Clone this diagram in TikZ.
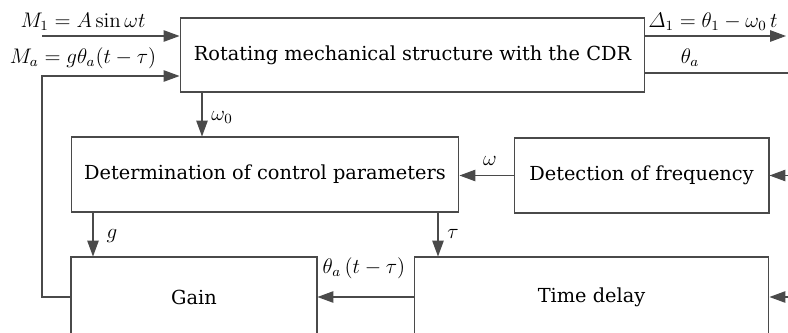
\documentclass[tikz,border=0pt]{standalone}
\usepackage{amsmath}
\usepackage{fontspec}
\usepackage{tikz}
\usetikzlibrary{arrows.meta}
\newfontfamily\blockfont{DejaVu Serif}
\definecolor{Frame}{HTML}{4A4A4A}

\begin{document}
\begin{tikzpicture}[x=0.02cm,y=-0.02cm,font=\fontsize{12}{14}\selectfont,
  blk/.style={draw=Frame,line width=0.6pt,inner sep=0pt,font=\blockfont\fontsize{11}{13}\selectfont},
  arr/.style={-{Triangle[length=9pt,width=6.5pt]},line width=0.6pt,draw=Frame}]
\useasboundingbox (0,0) rectangle (788,332);
\clip (0,0) rectangle (788,332);
% blocks
\node[blk,minimum width=9.3cm,minimum height=1.48cm] (rot) at (412.5,55) {Rotating mechanical structure with the CDR};
\node[blk,minimum width=7.76cm,minimum height=1.5cm] (par) at (265,174.5) {Determination of control parameters};
\node[blk,minimum width=5.1cm,minimum height=1.5cm] (freq) at (641.5,175.5) {Detection of frequency};
\node[blk,minimum width=4.92cm,minimum height=1.6cm] (gain) at (194,297) {Gain};
\node[blk,minimum width=7.1cm,minimum height=1.6cm] (delay) at (591.5,297) {Time delay};
% free ends
\coordinate (m1) at (42,36);
\coordinate (ma) at (42,76);
\coordinate (d1) at (786,36);
\coordinate (tha) at (800,73);
\coordinate (w0) at (202,0);
\coordinate (g) at (93,0);
\coordinate (tau) at (438,0);
\coordinate (fin) at (800,0);
% connectors
\draw[arr] (m1) -- (m1 -| rot.west);
\draw[arr] (gain.west) -| (ma) -- (ma -| rot.west);
\draw[arr] (rot.east |- d1) -- (d1);
\draw[draw=Frame,line width=0.6pt] (rot.east |- tha) -- (tha);
\draw[arr] (rot.south -| w0) -- (par.north -| w0);
\draw[arr] (freq.west) -- (par.east |- freq.west);
\draw[arr] (fin |- freq.east) -- (freq.east);
\draw[arr] (par.south -| g) -- (gain.north -| g);
\draw[arr] (par.south -| tau) -- (delay.north -| tau);
\draw[arr] (delay.west) -- (gain.east |- delay.west);
\draw[arr] (fin |- delay.east) -- (delay.east);
% labels
\node[anchor=base] (lm1) at (83,27) {$M_1 = A\sin\omega t$};
\node[anchor=base] (lma) at (83,63) {$M_a = g\theta_a(t-\tau)$};
\node[anchor=base] (ld1) at (713,27) {$\varDelta_1 = \theta_1 - \omega_0\,t$};
\node[anchor=base] (ltha) at (690,63) {$\theta_a$};
\node[anchor=base] (lw0) at (222,120) {$\omega_0$};
\node[anchor=base] (lw) at (490,165) {$\omega$};
\node[anchor=base] (lg) at (112,238) {$g$};
\node[anchor=base] (ltau) at (453,238) {$\tau$};
\node[anchor=base] (lthd) at (364,273) {$\theta_a\,(t-\tau)$};
\end{tikzpicture}
\end{document}
